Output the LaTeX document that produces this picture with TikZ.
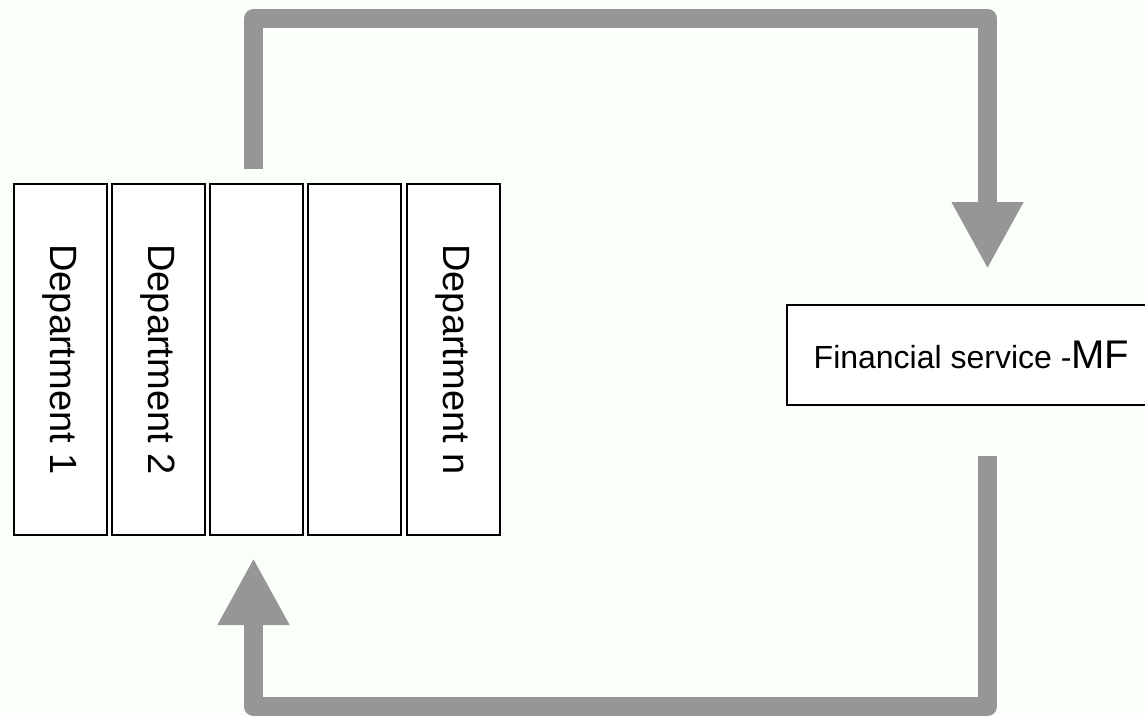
\documentclass[tikz,border=0pt]{standalone}
\usepackage{fontspec}
\setmainfont{Liberation Sans}
\usetikzlibrary{arrows.meta,calc}
\definecolor{bgc}{RGB}{250,255,250}
\definecolor{flow}{RGB}{150,150,150}
\tikzset{
  dept/.style={draw=black, line width=2pt, fill=white, minimum width=93pt, minimum height=351pt, inner sep=0pt},
  deptlabel/.style={rotate=-90, font=\fontsize{38}{40}\selectfont},
  finbox/.style={draw=black, line width=2pt, fill=white, minimum width=369pt, minimum height=100pt, inner sep=0pt},
  flowline/.style={draw=flow, line width=19pt, line join=round, line cap=butt,
    -{Triangle[length=67pt,width=67pt,fill=flow]}}
}
\begin{document}
\begin{tikzpicture}[x=1pt,y=-1pt]
\useasboundingbox (0,0) rectangle (1145,715);
\fill[bgc] (0,0) rectangle (1145,715);
\begin{scope}
\clip (0,0) rectangle (1145,715);
\node[dept] (d1) at (60,359.5) {};
\node[dept] (d2) at (158.25,359.5) {};
\node[dept] (d3) at (256.5,359.5) {};
\node[dept] (d4) at (354.75,359.5) {};
\node[dept] (d5) at (453,359.5) {};
\node[deptlabel] (t1) at (d1.center) {Department 1};
\node[deptlabel] (t2) at (d2.center) {Department 2};
\node[deptlabel] (t5) at (d5.center) {Department n};
\node[finbox] (fin) at (971.5,355) {\fontsize{32}{34}\selectfont Financial service -\fontsize{40}{42}\selectfont MF};
\coordinate (s1) at ($(d3.north)+(-3,-14)$);
\coordinate (e1) at ($(fin.north)+(16,-35)$);
\coordinate (s2) at ($(fin.south)+(16,50)$);
\coordinate (e2) at ($(d3.south)+(-3,22)$);
\draw[flowline] (s1) -- (s1 |- 0,18.5) -- (e1 |- 0,18.5) -- (e1);
\draw[flowline] (s2) -- (s2 |- 0,706.5) -- (e2 |- 0,706.5) -- (e2);
\end{scope}
\end{tikzpicture}
\end{document}
